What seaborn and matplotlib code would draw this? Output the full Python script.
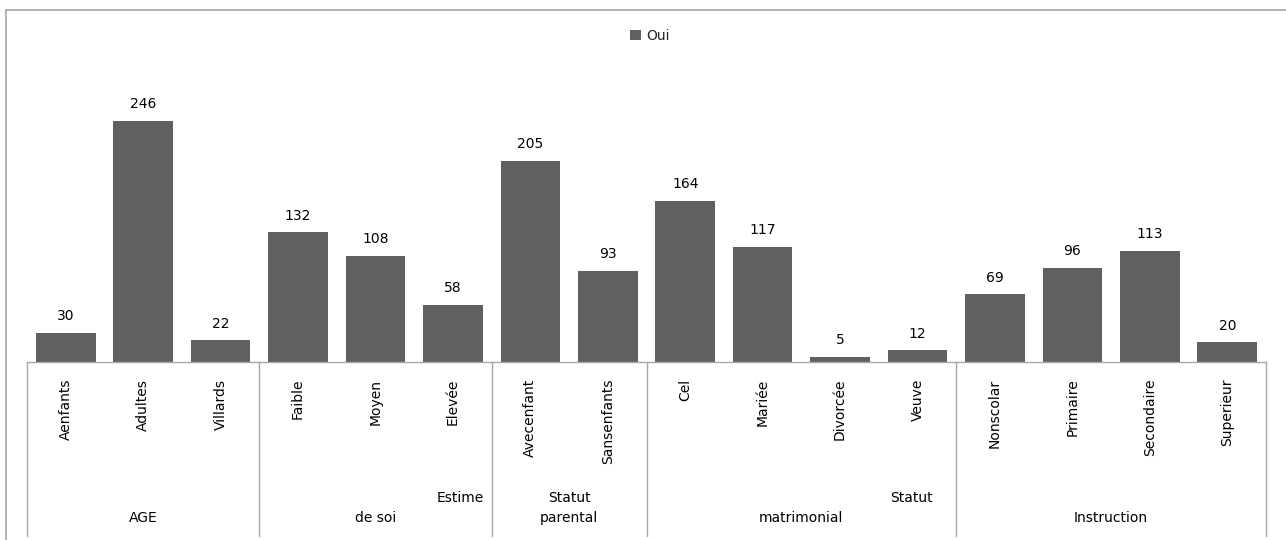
import matplotlib
matplotlib.use("Agg")
import matplotlib.pyplot as plt
from matplotlib.lines import Line2D
from matplotlib.patches import Patch
from matplotlib.transforms import blended_transform_factory
import seaborn as sns
import pandas as pd

# Data
categories = ["Aenfants", "Adultes", "Villards",
              "Faible", "Moyen", "Elevée",
              "Avecenfant", "Sansenfants",
              "Cel", "Mariée", "Divorcée", "Veuve",
              "Nonscolar", "Primaire", "Secondaire", "Superieur"]
values = [30, 246, 22, 132, 108, 58, 205, 93, 164, 117, 5, 12, 69, 96, 113, 20]
group_sizes = [3, 3, 2, 4, 4]
series_name = "Oui"

sns.set_theme(style="white")
plt.rcParams["font.family"] = ["DejaVu Sans"]

BAR = "#606060"
LINE = "#a6a6a6"

fig = plt.figure(figsize=(12.86, 5.40), dpi=100)
W, H = 1286, 540
ax = fig.add_axes([27 / W, 1 - 362 / H, (1266 - 27) / W, (362 - 45) / H])

df = pd.DataFrame({"cat": categories, "val": values})
sns.barplot(data=df, x="cat", y="val", color=BAR, saturation=1, width=0.77,
            ax=ax, edgecolor="none")
ax.set_ylim(0, 323)
ax.set_xlim(-0.5, len(categories) - 0.5)
for c in ax.containers:
    ax.bar_label(c, padding=7, fontsize=10, color="black")

for s in ["top", "right", "left"]:
    ax.spines[s].set_visible(False)
ax.spines["bottom"].set_color(LINE)
ax.spines["bottom"].set_linewidth(1)
ax.set_yticks([])
ax.set_xlabel("")
ax.set_ylabel("")
ax.tick_params(axis="x", length=0, pad=12, labelsize=10, labelcolor="black")
ax.set_xticks(range(len(categories)))
ax.set_xticklabels(categories, rotation=90, va="top", ha="center")

# Group separators below the axis
trans = blended_transform_factory(ax.transData, fig.transFigure)
bounds = [-0.5]
for g in group_sizes:
    bounds.append(bounds[-1] + g)
for b in bounds:
    ax.add_line(Line2D([b, b], [1 - 362 / H, 1 - 536 / H], transform=trans,
                       color=LINE, lw=1, clip_on=False))

# Group labels (wrapped as in the category axis)
y1 = 1 - 498 / H
y2 = 1 - 518 / H
group_texts = [
    ("AGE", (bounds[0] + bounds[1]) / 2, y2, "center"),
    ("Estime", bounds[2] - 0.1, y1, "right"),
    ("de soi", (bounds[1] + bounds[2]) / 2, y2, "center"),
    ("Statut", (bounds[2] + bounds[3]) / 2, y1, "center"),
    ("parental", (bounds[2] + bounds[3]) / 2, y2, "center"),
    ("Statut", bounds[4] - 0.3, y1, "right"),
    ("matrimonial", (bounds[3] + bounds[4]) / 2, y2, "center"),
    ("Instruction", (bounds[4] + bounds[5]) / 2, y2, "center"),
]
for txt, x, y, ha in group_texts:
    ax.text(x, y, txt, transform=trans, ha=ha, va="center", fontsize=10,
            color="black", clip_on=False)

# Legend
fig.legend(handles=[Patch(facecolor=BAR, edgecolor="none", label=series_name)],
           loc="center", bbox_to_anchor=(650 / W, 1 - 36 / H), frameon=False,
           fontsize=10, handlelength=0.8, handleheight=0.8, handletextpad=0.4)

# Chart frame
fig.add_artist(Line2D([6 / W, 1.0], [1 - 10 / H, 1 - 10 / H], transform=fig.transFigure,
                      color=LINE, lw=1.2))
fig.add_artist(Line2D([6 / W, 6 / W], [1 - 10 / H, 0.0], transform=fig.transFigure,
                      color=LINE, lw=1.2))

fig.savefig("out.png", dpi=100, facecolor="white")
